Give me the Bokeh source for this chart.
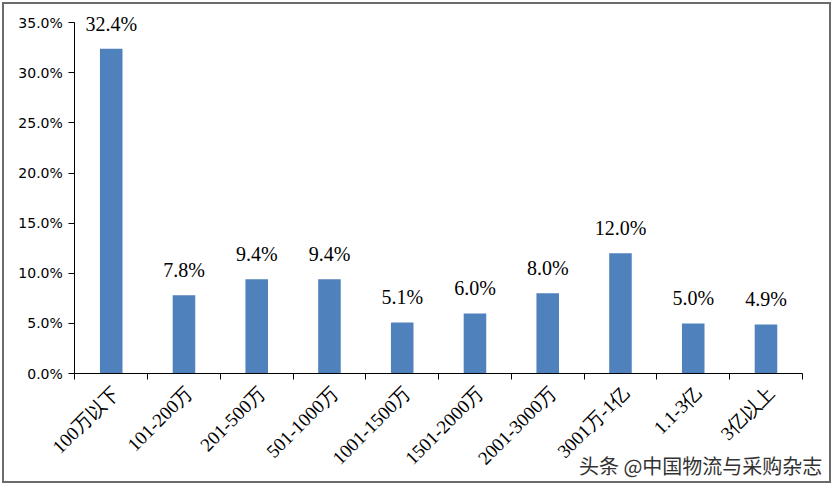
from bokeh.plotting import figure
from bokeh.models import ColumnDataSource, FixedTicker, LabelSet, Label, PrintfTickFormatter, Range1d
from bokeh.embed import file_html
from bokeh.resources import INLINE
import math

categories = ["100万以下", "101-200万", "201-500万", "501-1000万", "1001-1500万",
              "1501-2000万", "2001-3000万", "3001万-1亿", "1.1-3亿", "3亿以上"]
values = [32.4, 7.8, 9.4, 9.4, 5.1, 6.0, 8.0, 12.0, 5.0, 4.9]
y_ticks = [0, 5, 10, 15, 20, 25, 30, 35]
watermark = "头条 @中国物流与采购杂志"

n = len(categories)
xs = [i + 0.5 for i in range(n)]
labels = ["%.1f%%" % v for v in values]
src = ColumnDataSource(dict(x=xs, top=values, lab=labels))
cat_src = ColumnDataSource(dict(x=xs, y=[0] * n, cat=categories))

# layout in pixels: the frame fills the whole canvas, axes are drawn at x=0 / y=0
W, H = 829, 481
canvas_w, canvas_h = W - 4, H - 4
px_x = 724 / n          # pixels per category
px_y = 348 / 35.0       # pixels per percent
x_start = -70 / px_x
x_end = x_start + canvas_w / px_x
y_end = 35 + 18 / px_y
y_start = y_end - canvas_h / px_y

p = figure(width=W, height=H, output_backend="svg", toolbar_location=None,
           x_range=Range1d(x_start, x_end), y_range=Range1d(y_start, y_end),
           min_border_left=0, min_border_right=0, min_border_top=0, min_border_bottom=0)
p.styles = {"border": "2px solid #6b6b6b", "margin": "2px"}
p.outline_line_color = None
p.xgrid.visible = False
p.ygrid.visible = False

p.vbar(x="x", top="top", width=0.31, source=src, fill_color="#4F81BD", line_color=None)

p.add_layout(LabelSet(x="x", y="top", text="lab", source=src, y_offset=14,
                      text_align="center", text_baseline="bottom",
                      text_font="Liberation Serif", text_font_size="20px", text_color="#000000"))

# y axis at x=0
p.yaxis.fixed_location = 0
p.yaxis.bounds = (0, 35)
p.yaxis.ticker = FixedTicker(ticks=y_ticks, minor_ticks=[])
p.yaxis.formatter = PrintfTickFormatter(format="%.1f%%")
p.yaxis.major_label_text_font = "DejaVu Sans"
p.yaxis.major_label_text_font_size = "14px"
p.yaxis.major_label_text_color = "#000000"
p.yaxis.axis_line_color = "#000000"
p.yaxis.major_tick_line_color = "#000000"
p.yaxis.major_tick_in = 0
p.yaxis.major_tick_out = 6
p.yaxis.major_label_standoff = 6

# x axis at y=0, ticks at category boundaries
p.xaxis.fixed_location = 0
p.xaxis.bounds = (0, n)
p.xaxis.ticker = FixedTicker(ticks=list(range(n + 1)), minor_ticks=[])
p.xaxis.major_label_overrides = {i: "" for i in range(n + 1)}
p.xaxis.major_tick_line_color = "#000000"
p.xaxis.major_tick_in = 0
p.xaxis.major_tick_out = 6
p.xaxis.axis_line_color = "#000000"

# category labels, rotated 45 degrees
p.add_layout(LabelSet(x="x", y="y", text="cat", source=cat_src, angle=math.pi / 4,
                      x_offset=5, y_offset=-16, text_align="right", text_baseline="middle",
                      text_font="Liberation Serif", text_font_size="19px", text_color="#000000"))

p.add_layout(Label(x=n, y=0, x_offset=20, y_offset=-92, text=watermark,
                   text_align="right", text_baseline="middle",
                   text_font="Noto Sans CJK SC", text_font_size="20px", text_color="#333333"))

open("out.html", "w").write(file_html(p, INLINE))
